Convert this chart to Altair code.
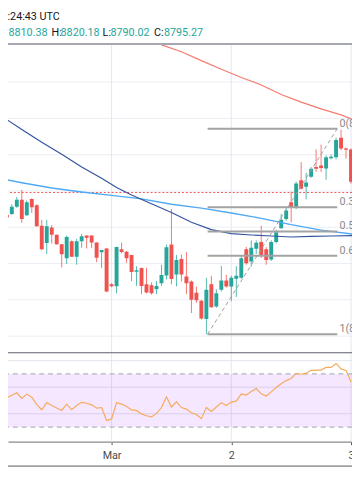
import altair as alt
import pandas as pd

W, H = 352, 438
GREEN = "#26a69a"
RED = "#ef5350"

# ---------------- data ----------------
first_candle = "2020-02-29 02:00"   # hourly candles (UTC)
opens = [8698.1, 8717.3, 8718.3, 8728.1, 8738.0, 8716.5, 8738.9, 8730.4, 8702.1, 8678.3,
         8699.8, 8689.6, 8676.5, 8657.3, 8680.6, 8659.4, 8680.6, 8688.6, 8688.6, 8678.8,
         8665.4, 8670.7, 8621.3, 8618.6, 8669.8, 8666.2, 8661.7, 8638.8, 8643.8, 8621.3,
         8620.0, 8614.6, 8622.7, 8633.5, 8676.1, 8634.8, 8656.3, 8632.1, 8625.4, 8609.9,
         8598.9, 8573.5, 8621.3, 8590.8, 8614.0, 8626.7, 8618.3, 8629.0, 8630.4, 8669.8,
         8652.7, 8670.5, 8679.6, 8669.8, 8655.7, 8679.6, 8698.7, 8711.5, 8734.5, 8726.7,
         8764.7, 8755.9, 8769.4, 8782.9, 8784.9, 8780.9, 8795.0, 8796.3, 8823.3, 8808.5,
         8807.1]
highs = [8712.9, 8725.0, 8731.7, 8741.6, 8751.5, 8737.1, 8739.8, 8731.7, 8710.2, 8710.2,
         8703.0, 8690.0, 8676.6, 8688.6, 8681.9, 8684.2, 8690.9, 8688.8, 8688.8, 8679.2,
         8668.7, 8671.6, 8623.0, 8673.2, 8678.9, 8667.1, 8661.7, 8646.2, 8644.2, 8644.2,
         8624.0, 8625.8, 8648.3, 8676.1, 8725.0, 8661.7, 8662.4, 8665.8, 8626.7, 8618.3,
         8599.8, 8630.4, 8633.1, 8614.6, 8646.5, 8634.4, 8633.1, 8646.5, 8661.7, 8672.9,
         8681.9, 8681.9, 8702.1, 8672.5, 8681.9, 8696.7, 8718.3, 8727.7, 8749.2, 8762.7,
         8789.6, 8774.8, 8782.9, 8807.1, 8813.8, 8799.0, 8800.4, 8823.3, 8834.4, 8809.8,
         8808.5]
lows = [8692.7, 8698.1, 8716.9, 8726.7, 8706.1, 8715.6, 8719.6, 8700.8, 8668.5, 8663.1,
        8677.5, 8675.9, 8644.6, 8649.2, 8659.0, 8648.3, 8671.6, 8670.7, 8671.1, 8652.0,
        8643.8, 8610.6, 8617.3, 8608.9, 8664.0, 8650.9, 8625.8, 8619.3, 8607.9, 8608.8,
        8607.2, 8607.9, 8619.3, 8628.1, 8621.3, 8618.6, 8625.4, 8607.9, 8581.9, 8595.8,
        8572.9, 8552.7, 8589.0, 8589.0, 8611.5, 8616.9, 8598.1, 8603.8, 8629.0, 8648.3,
        8645.6, 8663.1, 8657.7, 8648.3, 8653.6, 8677.9, 8698.1, 8708.8, 8706.6, 8725.0,
        8751.9, 8738.5, 8768.1, 8776.1, 8776.1, 8765.4, 8793.6, 8793.6, 8805.8, 8794.6,
        8760.0]
closes = [8710.2, 8713.3, 8728.1, 8738.0, 8711.5, 8734.4, 8727.7, 8701.2, 8669.8, 8701.2,
          8689.6, 8676.5, 8662.7, 8686.4, 8659.4, 8680.6, 8687.7, 8685.6, 8678.8, 8658.1,
          8668.5, 8611.5, 8618.6, 8672.9, 8665.8, 8657.3, 8638.4, 8640.9, 8619.0, 8610.2,
          8608.9, 8619.0, 8634.1, 8672.5, 8628.7, 8655.0, 8634.8, 8622.7, 8600.2, 8599.5,
          8574.2, 8613.9, 8589.8, 8608.9, 8626.7, 8618.3, 8630.4, 8633.1, 8657.3, 8650.3,
          8671.8, 8678.5, 8660.4, 8655.0, 8679.6, 8693.1, 8710.2, 8723.0, 8726.7, 8760.4,
          8752.9, 8761.7, 8780.6, 8780.6, 8781.5, 8796.3, 8797.0, 8820.2, 8808.5, 8806.6,
          8762.7]
rsi = [51.7, 52.1, 53.9, 55.8, 51.6, 54.8, 52.5, 46.9, 43.0, 48.4,
       46.2, 44.4, 42.5, 47.2, 43.0, 46.2, 48.6, 47.9, 46.7, 44.2,
       44.7, 34.9, 36.1, 48.4, 47.3, 45.5, 42.9, 42.5, 39.9, 38.5,
       37.6, 40.3, 44.7, 52.8, 45.0, 49.2, 44.7, 43.5, 40.7, 39.4,
       36.3, 44.7, 41.8, 45.1, 48.4, 46.2, 48.8, 49.5, 55.0, 54.1,
       56.7, 59.0, 55.0, 53.4, 56.5, 59.8, 62.6, 65.0, 66.6, 70.5,
       69.8, 70.4, 72.7, 72.9, 72.9, 74.9, 74.9, 77.9, 73.8, 72.7,
       63.9]

ma_red_t = ["2020-03-01T10:00:00Z", "2020-03-01T14:00:00Z", "2020-03-01T18:00:00Z",
            "2020-03-01T22:00:00Z", "2020-03-02T02:00:00Z", "2020-03-02T06:00:00Z",
            "2020-03-02T10:00:00Z", "2020-03-02T14:00:00Z", "2020-03-02T18:00:00Z",
            "2020-03-02T22:00:00Z", "2020-03-03T01:00:00Z"]
ma_red_p = [8951.2, 8941.7, 8929.5, 8917.6, 8906.3, 8896.0, 8882.8, 8872.3, 8863.0, 8854.8, 8846.8]

ma_dark_t = ["2020-02-29T03:00:00Z", "2020-02-29T06:00:00Z", "2020-02-29T10:00:00Z",
             "2020-02-29T14:00:00Z", "2020-02-29T18:00:00Z", "2020-02-29T22:00:00Z",
             "2020-03-01T01:00:00Z", "2020-03-01T04:00:00Z", "2020-03-01T08:00:00Z",
             "2020-03-01T12:00:00Z", "2020-03-01T16:00:00Z", "2020-03-01T20:00:00Z",
             "2020-03-02T00:00:00Z", "2020-03-02T04:00:00Z", "2020-03-02T08:00:00Z",
             "2020-03-02T12:00:00Z", "2020-03-02T16:00:00Z", "2020-03-02T20:00:00Z",
             "2020-03-03T01:00:00Z"]
ma_dark_p = [8848.2, 8834.7, 8817.2, 8800.4, 8782.9, 8767.4, 8754.6, 8744.5, 8732.4,
             8720.3, 8706.8, 8696.7, 8691.3, 8689.3, 8687.9, 8686.6, 8687.3, 8687.9, 8688.6]

ma_light_t = ["2020-02-29T02:00:00Z", "2020-02-29T06:00:00Z", "2020-02-29T12:00:00Z",
              "2020-02-29T18:00:00Z", "2020-03-01T00:00:00Z", "2020-03-01T06:00:00Z",
              "2020-03-01T12:00:00Z", "2020-03-01T18:00:00Z", "2020-03-02T00:00:00Z",
              "2020-03-02T06:00:00Z", "2020-03-02T12:00:00Z", "2020-03-02T18:00:00Z",
              "2020-03-03T01:00:00Z"]
ma_light_p = [8766.7, 8761.3, 8754.0, 8748.5, 8743.8, 8739.1, 8731.7, 8726.3, 8719.6,
              8712.3, 8703.5, 8696.0, 8690.0]

fib_levels = [0, 0.382, 0.5, 0.618, 1]
fib_high = 8835.8
fib_low = 8552.7
fib_start = "2020-03-01T19:15:00Z"
fib_end = "2020-03-02T21:15:00Z"
fib_label_at = "2020-03-02T21:40:00Z"

last_price = [8747.9]
price_grid = [8550, 8600, 8650, 8700, 8750, 8800, 8850, 8900]
rsi_grid = [80, 60, 40]
rsi_bands = [70, 30]
day_ticks = ["2020-03-01T00:00:00Z", "2020-03-02T00:00:00Z", "2020-03-03T00:00:00Z"]

header_time = "00:24:43 UTC"
header_ohlc = [8810.38, 8820.18, 8790.02, 8795.27]

# ---------------- frames ----------------
times = pd.date_range(first_candle, periods=len(opens), freq="h")
candles = pd.DataFrame({
    "t": [t.strftime("%Y-%m-%dT%H:%M:%SZ") for t in times],
    "open": opens, "high": highs, "low": lows, "close": closes, "rsi": rsi,
})
fib = pd.DataFrame({
    "t": fib_start, "t2": fib_end, "tl": fib_label_at,
    "p": [fib_high - lv * (fib_high - fib_low) for lv in fib_levels],
    "label": [f"{lv:g}({fib_high - lv * (fib_high - fib_low):.2f})" for lv in fib_levels],
})
fib_diag = pd.DataFrame({"t": [fib_start, fib_end], "p": [fib_low, fib_high]})
dummy = pd.DataFrame({"a": [0]})


def ms(s):
    return int(pd.Timestamp(s).value // 10**6)


MAR1 = ms("2020-03-01T00:00:00Z")
DAY = 86400000
PX_DAY = 122.5
xs = alt.Scale(type="utc", domain=[MAR1 - 106 / PX_DAY * DAY, MAR1 + 246 / PX_DAY * DAY],
               nice=False, padding=0)
xaxis = alt.Axis(values=[ms(d) for d in day_ticks],
                 labelExpr="utcdate(datum.value) == 1 ? utcFormat(datum.value, '%b') : '' + utcdate(datum.value)",
                 title=None, grid=False, domainColor="#8a8a8a", domainWidth=1.3,
                 tickColor="#555555", tickSize=3, tickWidth=1, labelFont="Roboto",
                 labelFontSize=11, labelColor="#4a4a4a", labelPadding=5,
                 labelFlush=False, labelOverlap=False)
X = alt.X("t:T", scale=xs, axis=xaxis)

ys = alt.Scale(domain=[8404.60, 8994.23], nice=False, zero=False, padding=0)
yr = alt.Scale(domain=[18.95, 341.6], nice=False, zero=False, padding=0)


def YP(f):
    return alt.Y(f, scale=ys, axis=None)


def YR(f):
    return alt.Y(f, scale=yr, axis=None)


updown = alt.condition("datum.close >= datum.open", alt.value(GREEN), alt.value(RED))

layers = []
layers.append(alt.Chart(pd.DataFrame({"p": price_grid})).mark_rule(color="#e9eef5", strokeWidth=1)
              .encode(y=YP("p:Q")))
layers.append(alt.Chart(pd.DataFrame({"t": day_ticks})).mark_rule(color="#dfe8f1", strokeWidth=1)
              .encode(x=X, y=alt.value(31), y2=alt.value(H)))
layers.append(alt.Chart(pd.DataFrame({"r": rsi_grid})).mark_rule(color="#e0e3eb", strokeWidth=1)
              .encode(y=YR("r:Q")))
layers.append(alt.Chart(pd.DataFrame({"a": [rsi_bands[0]], "b": [rsi_bands[1]]}))
              .mark_rect(color="#9915ff", opacity=0.1)
              .encode(x=alt.value(0), x2=alt.value(W), y=YR("a:Q"), y2="b:Q"))
layers.append(alt.Chart(pd.DataFrame({"r": rsi_bands}))
              .mark_rule(color="#b2b5be", strokeDash=[5, 4], strokeWidth=1.3)
              .encode(y=YR("r:Q")))
layers.append(alt.Chart(candles).mark_line(color="#f5ab5b", strokeWidth=1.2, clip=True)
              .encode(x=X, y=YR("rsi:Q")))
layers.append(alt.Chart(pd.DataFrame({"p": last_price}))
              .mark_rule(color=RED, strokeDash=[2, 2], strokeWidth=1)
              .encode(y=YP("p:Q")))
layers.append(alt.Chart(candles).mark_rule(strokeWidth=1, clip=True)
              .encode(x=X, y=YP("low:Q"), y2="high:Q", color=updown, opacity=alt.value(0.8)))
layers.append(alt.Chart(candles).mark_bar(size=4, clip=True)
              .encode(x=X, y=YP("open:Q"), y2="close:Q", color=updown))
for tt, pp, col, sw in [(ma_light_t, ma_light_p, "#4fa9f3", 1.4),
                        (ma_dark_t, ma_dark_p, "#34549f", 1.2),
                        (ma_red_t, ma_red_p, "#f47c6f", 1.2)]:
    layers.append(alt.Chart(pd.DataFrame({"t": tt, "p": pp}))
                  .mark_line(color=col, strokeWidth=sw, clip=True)
                  .encode(x=X, y=YP("p:Q")))
layers.append(alt.Chart(fib).mark_rule(color="#a3a3a3", strokeWidth=2)
              .encode(x=X, x2="t2:T", y=YP("p:Q")))
layers.append(alt.Chart(fib_diag).mark_line(color="#9e9e9e", strokeWidth=1, strokeDash=[4, 3])
              .encode(x=X, y=YP("p:Q")))
layers.append(alt.Chart(fib).mark_text(align="left", baseline="alphabetic", dy=-2, font="Roboto",
                                       fontSize=11, color="#8a8a8a", clip=True)
              .encode(x=alt.X("tl:T", scale=xs, axis=xaxis), y=YP("p:Q"), text="label:N"))

# panel separators
for yv, col, sw in [(31, "#a5a8b0", 2), (347, "#5d606b", 1.2), (463, "#a0a0a0", 2)]:
    layers.append(alt.Chart(dummy).mark_rule(color=col, strokeWidth=sw)
                  .encode(x=alt.value(0), x2=alt.value(W), y=alt.value(yv)))

# header legend (shifted so the reference's visible part fits inside the page margin)
TXT = dict(font="Roboto", fontSize=11, baseline="alphabetic")
layers.append(alt.Chart(dummy).mark_text(text=header_time, x=53, y=7, align="right",
                                         color="#131722", **TXT))
segs = [(f"{header_ohlc[0]:.2f}", 0.5, GREEN), ("H:", 44.5, "#131722"),
        (f"{header_ohlc[1]:.2f}", 53.8, GREEN), ("L:", 96.8, "#131722"),
        (f"{header_ohlc[2]:.2f}", 104.8, GREEN), ("C:", 149.5, "#131722"),
        (f"{header_ohlc[3]:.2f}", 159.5, GREEN)]
for s, xv, col in segs:
    layers.append(alt.Chart(dummy).mark_text(text=s, x=xv, y=22.7, align="left", color=col, **TXT))

chart = (alt.layer(*layers)
         .resolve_scale(y="independent")
         .properties(width=W, height=H, autosize=alt.AutoSizeParams(type="none"),
                     padding={"left": 0, "right": 0, "top": 0, "bottom": 58},
                     background="white")
         .configure_view(stroke="transparent"))

chart.save("out.html", embed_options={"renderer": "svg", "actions": False})
